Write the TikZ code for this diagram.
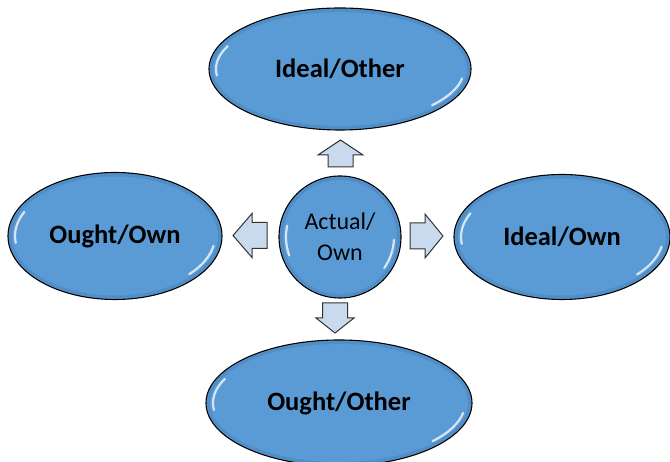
\documentclass[tikz,border=0pt]{standalone}
\usepackage{fontspec}
\setmainfont{Carlito}
\usetikzlibrary{shapes.geometric}
\definecolor{ballblue}{HTML}{5B9BD5}
\definecolor{arrowfill}{HTML}{C9D9EE}
\definecolor{rimblue}{HTML}{3F77AE}
\newcommand\glossmark[4]{% node, rx, ry, start angle
  \draw[gloss] ([shift={(#4:#2 and #3)}]#1.center) arc[start angle=#4, delta angle=32, x radius=#2, y radius=#3];}
\newcommand\rimmark[3]{% node, rx, ry
  \draw[rim] (#1.center) ellipse[x radius=#2, y radius=#3];}
\begin{document}
\begin{tikzpicture}[x=1pt,y=1pt,
  bubble/.style={ellipse, draw=black, line width=1.1pt, fill=ballblue, inner sep=0pt,
    font=\fontsize{26.5}{28}\selectfont\bfseries},
  ball/.style={circle, draw=black, line width=1.1pt, fill=ballblue, inner sep=0pt, align=center,
    font=\fontsize{24}{31}\selectfont},
  blockarrow/.style={draw=black!80, line width=1pt, fill=arrowfill, line join=miter},
  gloss/.style={white, line width=2.2pt, opacity=0.75, line cap=round},
  rim/.style={rimblue, line width=3pt, opacity=0.35}]
\useasboundingbox (0,0) rectangle (670,462);
\clip (0,0) rectangle (670,462);

\node[bubble, minimum width=262pt, minimum height=122pt] (idealother) at (340,393) {Ideal/Other};
\node[bubble, minimum width=214pt, minimum height=127pt] (oughtown) at (115,226) {Ought/Own};
\node[bubble, minimum width=216pt, minimum height=125pt] (idealown) at (562,225) {Ideal/Own};
\node[bubble, minimum width=266pt, minimum height=126pt] (oughtother) at (339,59) {Ought/Other};
\node[ball, minimum size=122pt] (actual) at (340,225) {Actual/\\Own};

% soft rims
\rimmark{idealother}{128.5}{58.5}
\rimmark{oughtown}{104.5}{61}
\rimmark{idealown}{105.5}{60}
\rimmark{oughtother}{130.5}{60.5}
\rimmark{actual}{58.5}{58.5}

% gloss highlights
\glossmark{idealother}{124}{54}{155}
\glossmark{idealother}{124}{54}{-42}
\glossmark{oughtown}{100}{57}{155}
\glossmark{oughtown}{100}{57}{-42}
\glossmark{idealown}{101}{56}{155}
\glossmark{idealown}{101}{56}{-42}
\glossmark{oughtother}{126}{57}{155}
\glossmark{oughtother}{126}{57}{-42}
\glossmark{actual}{54}{54}{168}
\glossmark{actual}{54}{54}{-35}

% block arrows
\draw[blockarrow] (328,295) -- (328,307) -- (318,307) -- (340.5,322) -- (363,307) -- (353,307) -- (353,295) -- cycle;
\draw[blockarrow] (322.5,159) -- (322.5,144) -- (316,144) -- (335,129) -- (354,144) -- (347.5,144) -- (347.5,159) -- cycle;
\draw[blockarrow] (267,213.5) -- (252,213.5) -- (252,204.5) -- (233,226.5) -- (252,248.5) -- (252,239.5) -- (267,239.5) -- cycle;
\draw[blockarrow] (410,213) -- (425,213) -- (425,204) -- (443,226) -- (425,248) -- (425,239) -- (410,239) -- cycle;
\end{tikzpicture}
\end{document}
